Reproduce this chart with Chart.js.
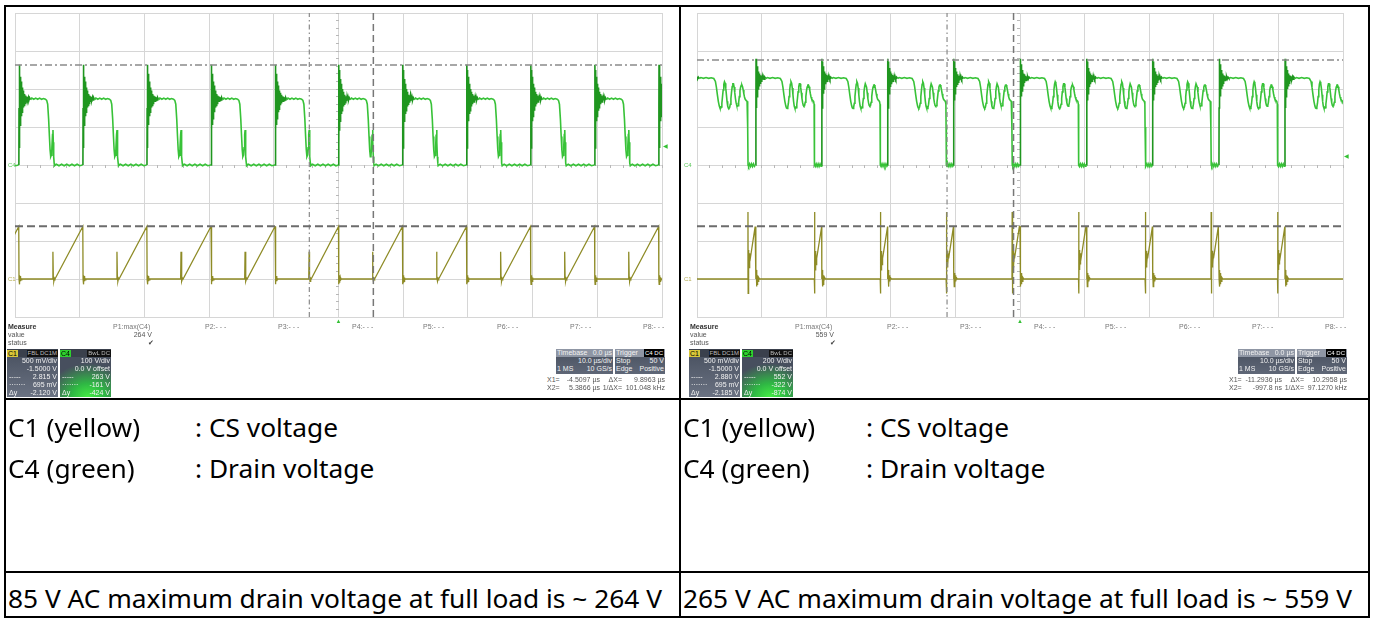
<!DOCTYPE html>
<html>
<head>
<meta charset="utf-8">
<script src="https://cdn.jsdelivr.net/npm/chart.js@4.4.1/dist/chart.umd.min.js"></script>
<style>
body { margin: 0; background: #fff; width: 1375px; height: 621px; overflow: hidden; position: relative; }
canvas { position: absolute; top: 7px; }
#scopeLeft { left: 7px; }
#scopeRight { left: 683px; }
.ln { position: absolute; background: #000; }
.tx { position: absolute; font-family: "Noto Sans", sans-serif; font-size: 26.3px; line-height: 26.3px; color: #000; white-space: nowrap; }
.sm { position: absolute; font: 7px/8px "Liberation Sans", Arial, sans-serif; color: #555; white-space: nowrap; }
.tag { position: absolute; font: 6px/6px "Liberation Sans", Arial, sans-serif; white-space: nowrap; }
.panel { position: absolute; width: 51px; height: 48px; overflow: hidden; font: 7px/8px "Liberation Sans", Arial, sans-serif; color: #f2f2f2; background: linear-gradient(#474f5e, #6a7282); }
.panel.c4 { background: radial-gradient(ellipse 80% 70% at 55% 100%, #45ec45 0%, #2fb844 40%, #474f5e 100%); }
.ph { height: 8px; display: flex; align-items: center; background: #3a404c; }
.pn { padding: 0 1px; color: #000; height: 7px; line-height: 7px; }
.pn.y { background: #d9c83a; }
.pn.g { background: #2ed12e; }
.pt { margin-left: auto; background: #111; color: #bbb; height: 7px; line-height: 7px; padding: 0 1px; font-size: 6px; }
.pr { height: 8px; text-align: right; padding-right: 1px; position: relative; white-space: nowrap; }
.pm { position: absolute; left: 2px; top: 0; }
.tb { position: absolute; height: 25px; font: 7px/8px "Liberation Sans", Arial, sans-serif; color: #f2f2f2; background: linear-gradient(#48505f, #5f6777); overflow: hidden; }
.tbh { height: 8px; background: #8f96a4; display: flex; justify-content: space-between; padding: 0 1px; }
.tbr { height: 8px; display: flex; justify-content: space-between; padding: 0 1px; }
.blk { background: #000; color: #fff; padding: 0 1px; font-size: 6px; }
</style>
</head>
<body>
<canvas id="scopeLeft" width="671" height="318"></canvas>
<canvas id="scopeRight" width="683" height="318"></canvas>
<div id="overlay"></div>
<script>
// Screen: 10 time divisions of 10 us, trigger at 0, 8 vertical divisions
const timeTicks = [-50, -40, -30, -20, -10, 0, 10, 20, 30, 40, 50];
const divTicks = [-4, -3, -2, -1, 0, 1, 2, 3, 4];

// C1 (CS) channel setup, same on both captures
const c1PerDiv = 0.5;
const c1Offset = -1.5;

// 85 V AC capture, C4 100 V/div
const leftC4PerDiv = 100;
// drain rising edges (us)
const leftRise = [-59.3, -49.4, -39.5, -29.6, -19.7, -9.8, 0, 9.9, 19.8, 29.7, 39.6, 49.5];
// one switching cycle of the drain voltage, [us after rising edge, V]
const leftDrainCycle = [
    [0, 0], [0.02, 150], [0.04, 264], [0.07, 45], [0.1, 250], [0.13, 90], [0.16, 240], [0.19, 105],
    [0.22, 232], [0.25, 115], [0.28, 226], [0.31, 122], [0.34, 220], [0.37, 128], [0.4, 214], [0.43, 134],
    [0.46, 209], [0.49, 139], [0.52, 204], [0.55, 143], [0.58, 200], [0.61, 147], [0.64, 196], [0.67, 151],
    [0.7, 193], [0.73, 154], [0.76, 190], [0.8, 157], [0.84, 187], [0.88, 160], [0.92, 185], [0.96, 162],
    [1.0, 183], [1.05, 164], [1.1, 181], [1.15, 166], [1.2, 180], [1.26, 168], [1.32, 179], [1.4, 170],
    [1.48, 178], [1.56, 171], [1.66, 177], [1.8, 172], [2.0, 176], [2.3, 173], [2.6, 176], [2.9, 173],
    [3.2, 176], [3.5, 173], [3.8, 175], [4.1, 173], [4.3, 170], [4.45, 160], [4.6, 120], [4.72, 75],
    [4.82, 40], [4.92, 22], [5.02, 26], [5.1, 45], [5.2, 80], [5.27, 92], [5.32, 60], [5.38, 22],
    [5.45, 5], [5.5, -2], [5.8, 2], [6.2, -2], [6.6, 2], [7.0, -2], [7.4, 2], [7.8, -2], [8.2, 2],
    [8.6, -2], [9.0, 2], [9.4, -2], [9.85, 0]
];
// one cycle of the current sense voltage, [us after drain rising edge, V]
const leftCsCycle = [
    [0, 0.69], [0.02, 0], [0.06, -0.07], [0.1, 0.05], [0.14, -0.05], [0.18, 0.04], [0.23, -0.03],
    [0.28, 0.02], [0.35, -0.01], [0.45, 0], [5.2, 0], [5.26, 0.36], [5.32, 0.03], [5.4, -0.03],
    [5.5, 0.01], [5.58, 0], [9.88, 0.69]
];
const leftCursorV = [263, -161];
const leftCursorT = [-4.5097, 5.3866];

// 265 V AC capture, C4 200 V/div
const rightC4PerDiv = 200;
const rightRise = [-51.2, -40.9, -30.7, -20.5, -10.3, 0, 10.3, 20.5, 30.8, 41.0];
const rightDrainCycle = [
    [0, 0], [0.02, 300], [0.04, 559], [0.07, 300], [0.1, 545], [0.13, 340], [0.16, 530], [0.19, 360],
    [0.22, 520], [0.25, 375], [0.28, 510], [0.31, 390], [0.34, 500], [0.37, 400], [0.4, 492], [0.43, 410],
    [0.46, 486], [0.5, 418], [0.54, 481], [0.58, 425], [0.62, 477], [0.66, 431], [0.7, 473], [0.75, 436],
    [0.8, 470], [0.85, 441], [0.9, 468], [0.96, 445], [1.02, 466], [1.1, 449], [1.18, 464], [1.28, 452],
    [1.4, 462], [1.55, 455], [1.8, 460], [2.2, 456], [2.6, 460], [3.0, 456], [3.4, 459], [3.8, 455],
    [4.05, 440], [4.2, 410], [4.35, 370], [4.5, 335], [4.65, 310], [4.75, 300], [4.85, 298],
    [4.95, 305], [5.05, 325], [5.15, 360], [5.25, 395], [5.35, 425], [5.45, 438], [5.55, 430],
    [5.65, 405], [5.75, 370], [5.85, 335], [5.95, 310], [6.05, 299], [6.15, 298], [6.25, 302],
    [6.35, 320], [6.45, 350], [6.55, 385], [6.65, 413], [6.75, 428], [6.85, 428], [6.95, 410],
    [7.05, 380], [7.15, 350], [7.25, 328], [7.35, 314], [7.45, 310], [7.55, 312], [7.65, 330],
    [7.75, 360], [7.85, 390], [7.95, 410], [8.05, 420], [8.15, 421], [8.25, 412], [8.35, 395],
    [8.45, 375], [8.55, 358], [8.65, 347], [8.8, 340], [8.95, 335], [9.03, 320], [9.06, 200],
    [9.1, 0], [9.2, -8], [9.35, 6], [9.5, -8], [9.65, 6], [9.8, -8], [9.95, 6], [10.1, -6], [10.2, 0]
];
const rightCsCycle = [
    [0, 0.69], [0.02, 0], [0.07, 0.12], [0.12, -0.1], [0.17, 0.08], [0.22, -0.07], [0.28, 0.05],
    [0.35, -0.03], [0.45, 0.02], [0.6, 0], [9.06, 0], [9.09, 0.88], [9.12, -0.19], [9.15, 0.38],
    [9.19, 0.12], [9.23, 0.37], [9.27, 0.15], [9.31, 0.34], [9.35, 0.19], [9.4, 0.3], [9.45, 0.27],
    [10.2, 0.69]
];
const rightCursorV = [552, -322];
const rightCursorT = [-11.2936, -0.9978];

// readouts
const measureNames = ["P1:max(C4)", "P2:- - -", "P3:- - -", "P4:- - -", "P5:- - -", "P6:- - -", "P7:- - -", "P8:- - -"];
const leftMaxValue = "264 V";
const rightMaxValue = "559 V";
const leftC1Rows = ["500 mV/div", "-1.5000 V", "2.815 V", "695 mV", "-2.120 V"];
const leftC4Rows = ["100 V/div", "0.0 V offset", "263 V", "-161 V", "-424 V"];
const rightC1Rows = ["500 mV/div", "-1.5000 V", "2.880 V", "695 mV", "-2.185 V"];
const rightC4Rows = ["200 V/div", "0.0 V offset", "552 V", "-322 V", "-874 V"];
const leftCursorText = ["-4.5097 µs", "9.8963 µs", "5.3866 µs", "101.048 kHz"];
const rightCursorText = ["-11.2936 µs", "10.2958 µs", "-997.8 ns", "97.1270 kHz"];
const triggerLevel = 50;

const legendLabels = ["C1 (yellow)", "C4 (green)"];
const legendMeanings = [": CS voltage", ": Drain voltage"];
const captions = [
    "85 V AC maximum drain voltage at full load is ~ 264 V",
    "265 V AC maximum drain voltage at full load is ~ 559 V"
];

const overlay = document.getElementById("overlay");
const gridColor = "#d6d6d6";

function el(x, y, html, cls, style) {
    const d = document.createElement("div");
    d.className = cls;
    d.style.left = x + "px";
    d.style.top = y + "px";
    d.innerHTML = html;
    if (style) Object.assign(d.style, style);
    overlay.appendChild(d);
    return d;
}

// chain the cycles at each rising edge
function buildTrace(rises, cycle, ringEnd) {
    const pts = [];
    rises.forEach((t0, i) => {
        const next = i + 1 < rises.length ? rises[i + 1] - t0 : Infinity;
        cycle.forEach(([dt, v]) => {
            if (dt < next) pts.push({ x: t0 + dt, y: v, ring: dt < ringEnd });
        });
    });
    return pts;
}

function lineSet(data, axis, color, width, dash, order) {
    return {
        data: data, yAxisID: axis, showLine: true, borderColor: color, borderWidth: width,
        borderDash: dash, pointRadius: 0, order: order
    };
}

function makeScope(id, cfg) {
    const tMin = timeTicks[0];
    const tMax = timeTicks[timeTicks.length - 1];
    const dMin = divTicks[0];
    const dMax = divTicks[divTicks.length - 1];
    const c1Center = -c1Offset;

    const drain = buildTrace(cfg.rises, cfg.drain, cfg.ringEnd);
    const cs = buildTrace(cfg.rises, cfg.cs, 0);

    const drainSet = lineSet(drain, "yC4", "#38c238", 1.6, [], 2);
    drainSet.segment = { borderColor: c => drain[c.p0DataIndex].ring ? "#1f961f" : undefined };

    const chart = new Chart(document.getElementById(id), {
        type: "scatter",
        data: {
            datasets: [
                drainSet,
                lineSet(cs, "yC1", "#8e8b26", 1.3, [], 3),
                lineSet([{ x: tMin, y: cfg.cursorV[0] }, { x: tMax, y: cfg.cursorV[0] }], "yC4", "#8a8a8a", 1.5, [7, 3, 2, 3], 1),
                lineSet([{ x: tMin, y: cfg.cursorV[1] }, { x: tMax, y: cfg.cursorV[1] }], "yC4", "#6c6c6c", 2, [8, 4], 1),
                lineSet([{ x: cfg.cursorT[0], y: dMin }, { x: cfg.cursorT[0], y: dMax }], "y", "#8a8a8a", 1.2, [5, 3, 1.5, 3], 1),
                lineSet([{ x: cfg.cursorT[1], y: dMin }, { x: cfg.cursorT[1], y: dMax }], "y", "#777777", 1.5, [7, 4], 1)
            ]
        },
        options: {
            responsive: false,
            animation: false,
            events: [],
            layout: { padding: cfg.pad },
            plugins: { legend: { display: false }, tooltip: { enabled: false } },
            scales: {
                x: {
                    type: "linear", min: tMin, max: tMax,
                    ticks: { display: false, stepSize: 10 },
                    grid: { color: gridColor, drawTicks: false },
                    border: { color: gridColor }
                },
                y: {
                    type: "linear", min: dMin, max: dMax,
                    ticks: { display: false, stepSize: 1 },
                    grid: { color: gridColor, drawTicks: false },
                    border: { color: gridColor }
                },
                yC4: { type: "linear", display: false, min: dMin * cfg.c4PerDiv, max: dMax * cfg.c4PerDiv },
                yC1: { type: "linear", display: false, min: c1Center + dMin * c1PerDiv, max: c1Center + dMax * c1PerDiv },
                xMinor: {
                    type: "linear", axis: "x", position: { y: 0 }, min: tMin, max: tMax,
                    ticks: { display: false, stepSize: 2 },
                    grid: { drawOnChartArea: false, tickLength: 3, color: "#b8b8b8" },
                    border: { display: false }
                },
                yMinor: {
                    type: "linear", axis: "y", position: { x: 0 }, min: dMin, max: dMax,
                    ticks: { display: false, stepSize: 0.2 },
                    grid: { drawOnChartArea: false, tickLength: 3, color: "#b8b8b8" },
                    border: { display: false }
                }
            }
        }
    });

    // markers placed from the chart's own scales
    const s = chart.scales;
    const top = 7;
    el(cfg.left + 1, top + s.yC4.getPixelForValue(0) - 3, "C4", "tag", { color: "#5cc85c" });
    el(cfg.left + 1, top + s.yC1.getPixelForValue(0) - 3, "C1", "tag", { color: "#b5ad55" });
    el(cfg.left + chart.chartArea.right + 1, top + s.yC4.getPixelForValue(triggerLevel) - 3, "◀", "tag", { color: "#33c033" });
    el(cfg.left + s.x.getPixelForValue(0) - 3, top + chart.chartArea.bottom + 1, "▲", "tag", { color: "#33c033" });
    return chart;
}

function chanPanel(x, y, name, tag, rows, isC4) {
    const marks = ["", "", "-----", "·······", "Δy"];
    const p = document.createElement("div");
    p.className = "panel" + (isC4 ? " c4" : "");
    p.style.left = x + "px";
    p.style.top = y + "px";
    let h = '<div class="ph"><span class="pn ' + (isC4 ? "g" : "y") + '">' + name + '</span><span class="pt">' + tag + "</span></div>";
    rows.forEach((r, i) => {
        h += '<div class="pr"><span class="pm">' + marks[i] + "</span>" + r + "</div>";
    });
    p.innerHTML = h;
    overlay.appendChild(p);
}

function scopeText(ox, maxValue, c1Rows, c4Rows, cursorText) {
    el(ox + 8, 323, "<b style='color:#333'>Measure</b>", "sm");
    el(ox + 8, 331, "value", "sm");
    el(ox + 8, 339, "status", "sm");
    const px = [113, 205, 278, 352, 423, 497, 570, 643];
    measureNames.forEach((n, i) => el(ox + px[i], 323, n, "sm", { color: "#777" }));
    el(ox + 112, 331, maxValue, "sm", { width: "40px", textAlign: "right" });
    el(ox + 148, 339, "✔", "sm", { color: "#444" });

    chanPanel(ox + 7, 349, "C1", "FBL DC1M", c1Rows, false);
    chanPanel(ox + 60, 349, "C4", "BwL DC", c4Rows, true);

    const tb = el(ox + 556, 349, "", "tb", { width: "57px" });
    tb.innerHTML = '<div class="tbh"><span>Timebase</span><span>0.0 µs</span></div>' +
        '<div class="tbr"><span></span><span>10.0 µs/div</span></div>' +
        '<div class="tbr"><span>1 MS</span><span>10 GS/s</span></div>';
    const tr = el(ox + 615, 349, "", "tb", { width: "50px" });
    tr.innerHTML = '<div class="tbh"><span>Trigger</span><span class="blk">C4 DC</span></div>' +
        '<div class="tbr"><span>Stop</span><span>50 V</span></div>' +
        '<div class="tbr"><span>Edge</span><span>Positive</span></div>';

    el(ox + 547, 376, "X1=", "sm");
    el(ox + 556, 376, cursorText[0], "sm", { width: "44px", textAlign: "right" });
    el(ox + 600, 376, "ΔX=", "sm", { width: "22px", textAlign: "right" });
    el(ox + 620, 376, cursorText[1], "sm", { width: "45px", textAlign: "right" });
    el(ox + 547, 384, "X2=", "sm");
    el(ox + 556, 384, cursorText[2], "sm", { width: "44px", textAlign: "right" });
    el(ox + 596, 384, "1/ΔX=", "sm", { width: "26px", textAlign: "right" });
    el(ox + 620, 384, cursorText[3], "sm", { width: "45px", textAlign: "right" });
}

makeScope("scopeLeft", {
    left: 7, pad: { left: 8, right: 16, top: 6, bottom: 8 },
    rises: leftRise, drain: leftDrainCycle, cs: leftCsCycle, ringEnd: 1.7,
    c4PerDiv: leftC4PerDiv, cursorV: leftCursorV, cursorT: leftCursorT
});
makeScope("scopeRight", {
    left: 683, pad: { left: 14, right: 23, top: 6, bottom: 8 },
    rises: rightRise, drain: rightDrainCycle, cs: rightCsCycle, ringEnd: 1.5,
    c4PerDiv: rightC4PerDiv, cursorV: rightCursorV, cursorT: rightCursorT
});

scopeText(0, leftMaxValue, leftC1Rows, leftC4Rows, leftCursorText);
scopeText(682, rightMaxValue, rightC1Rows, rightC4Rows, rightCursorText);

// table text
[8, 683].forEach((x, k) => {
    el(x, 414, legendLabels[0], "tx");
    el(x, 455, legendLabels[1], "tx");
    el(x + (k ? 183 : 187), 414, legendMeanings[0], "tx");
    el(x + (k ? 183 : 187), 455, legendMeanings[1], "tx");
    el(x, 585, captions[k], "tx");
});

// table rules
[5, 398, 571, 616].forEach(y => el(4, y, "", "ln", { width: "1366px", height: "2px" }));
[4, 679, 1368].forEach(x => el(x, 5, "", "ln", { width: "2px", height: "613px" }));
</script>
</body>
</html>
